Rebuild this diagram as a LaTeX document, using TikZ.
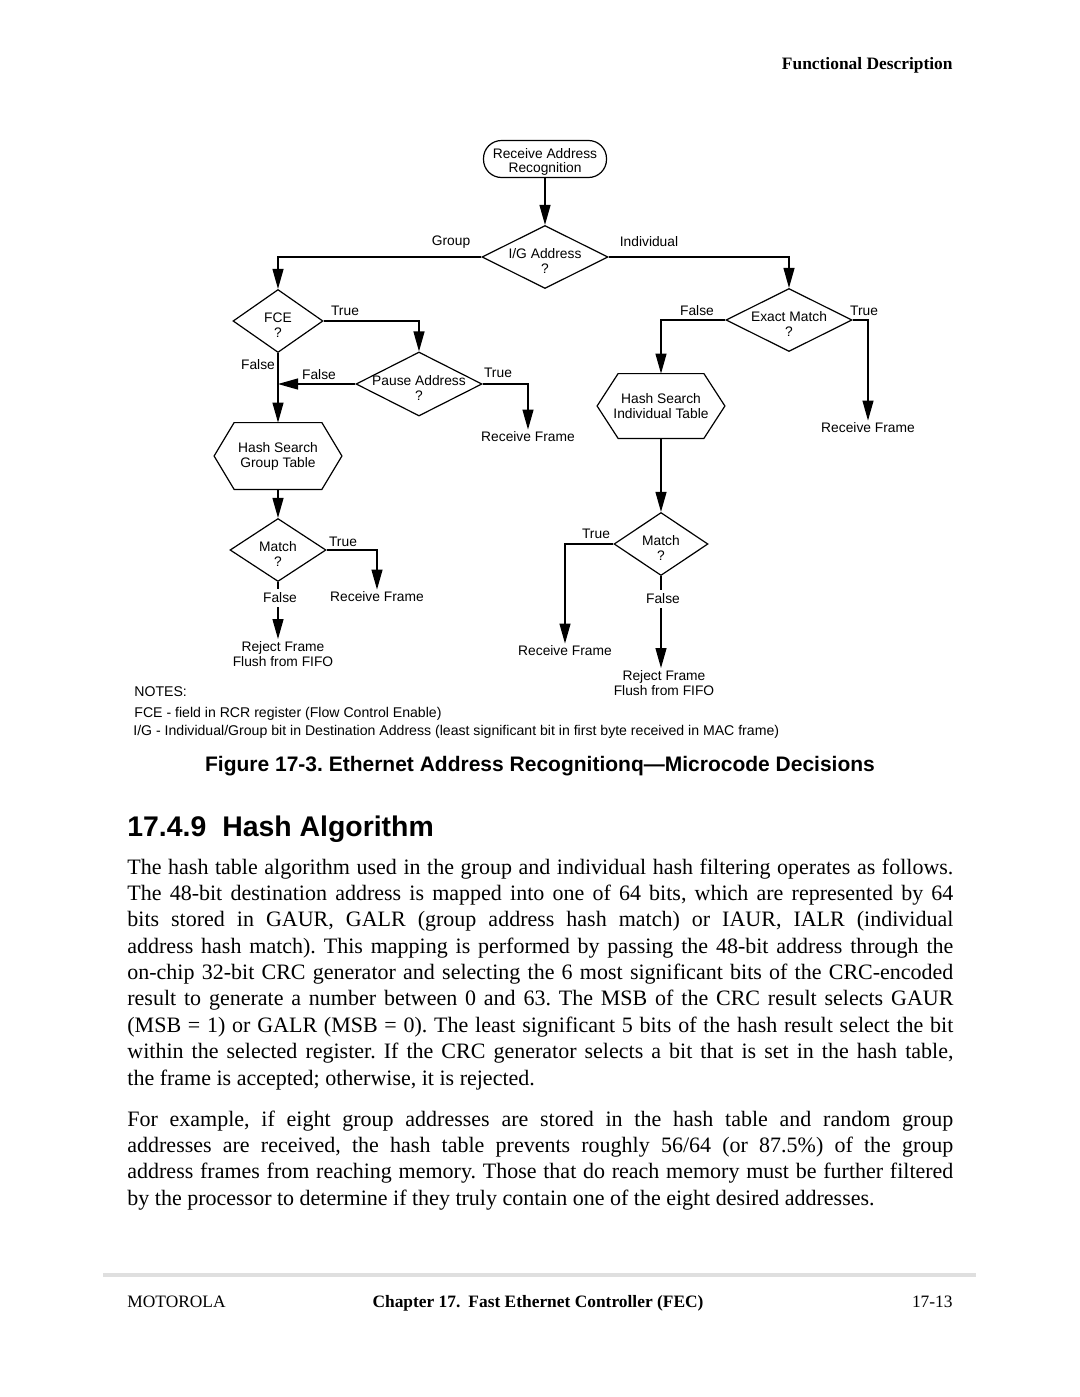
\documentclass[tikz,border=0pt]{standalone}
\usepackage{fontspec}
\setmainfont{Liberation Serif}
\setsansfont{Liberation Sans}
\usepackage{tikz}
\usetikzlibrary{shapes.geometric, arrows.meta}

\newcommand{\dfont}{\sffamily\fontsize{6.9}{7.5}\selectfont}
\newcommand{\nfont}{\sffamily\fontsize{7.05}{8}\selectfont}
\newcommand{\bodyfont}{\rmfamily\fontsize{11}{13.19}\selectfont\frenchspacing}

\tikzset{
	link/.style={line width=0.6pt},
	flow/.style={line width=0.6pt, -{Triangle[length=10pt, width=5.5pt]}},
	decision/.style={diamond, draw, line width=0.6pt, inner sep=0pt, minimum width=#1, minimum height=31.5pt},
	decision/.default=63pt,
	qtext/.style={font=\dfont, align=center, inner sep=0pt, yshift=-2pt},
	terminal/.style={rectangle, draw, line width=0.6pt, rounded corners=9pt, minimum width=61.5pt, minimum height=18.5pt, inner sep=0pt},
	hexbox/.style={rectangle, minimum width=63.5pt, minimum height=#1, inner sep=0pt, align=center, font=\dfont},
	outcome/.style={font=\dfont, align=center, inner sep=1pt},
	branch/.style={font=\dfont, inner sep=0.5pt},
	note/.style={font=\nfont, anchor=west, inner sep=0pt}
}

\begin{document}
\begin{tikzpicture}[x=0.5pt, y=-0.5pt]
	\useasboundingbox (0,0) rectangle (1080,1397);
	\fill[white] (0,0) rectangle (1080,1397);

	\node[anchor=base east, inner sep=0pt, font=\rmfamily\bfseries\fontsize{8.7}{10}\selectfont] (header) at (953,69) {Functional Description};

	\node[terminal, label={[qtext, font=\sffamily\fontsize{6.9}{7}\selectfont, yshift=0.5pt]center:{Receive Address\\Recognition}}] (start) at (545,159) {};
	\node[decision, label={[qtext]center:{I/G Address\\?}}] (ig) at (545,257) {};
	\node[decision=45pt, label={[qtext]center:{FCE\\?}}] (fce) at (278,321) {};
	\node[decision, label={[qtext]center:{Exact Match\\?}}] (exact) at (789,320) {};
	\node[decision=63pt, minimum height=32pt, label={[qtext]center:{Pause Address\\?}}] (pause) at (419,384) {};
	\node[hexbox=33pt] (hsg) at (278,456) {Hash Search\\Group Table};
	\node[hexbox=32pt] (hsi) at (661,406) {Hash Search\\Individual Table};
	\node[decision=48pt, label={[qtext]center:{Match\\?}}] (matchg) at (278,550) {};
	\node[decision=47pt, label={[qtext]center:{Match\\?}}] (matchi) at (661,544) {};

	\draw[link] ([xshift=10pt]hsg.north west) -- ([xshift=-10pt]hsg.north east) -- (hsg.east)
		-- ([xshift=-10pt]hsg.south east) -- ([xshift=10pt]hsg.south west) -- (hsg.west) -- cycle;
	\draw[link] ([xshift=10.5pt]hsi.north west) -- ([xshift=-10.5pt]hsi.north east) -- (hsi.east)
		-- ([xshift=-10.5pt]hsi.south east) -- ([xshift=10.5pt]hsi.south west) -- (hsi.west) -- cycle;

	\node[outcome] (rfpause) at (528,437) {Receive Frame};
	\node[outcome] (rfexact) at (868,428) {Receive Frame};
	\node[outcome] (rfmatchg) at (377,597) {Receive Frame};
	\node[outcome] (rfmatchi) at (565,651) {Receive Frame};
	\node[outcome] (rejg) at (283,654) {Reject Frame\\Flush from FIFO};
	\node[outcome] (reji) at (664,683) {Reject Frame\\Flush from FIFO};

	\node[branch] (bgroup) at (451,242) {Group};
	\node[branch] (bindiv) at (649,242) {Individual};
	\node[branch] (bfcetrue) at (345,311) {True};
	\node[branch] (bfcefalse) at (258,365) {False};
	\node[branch] (bpausefalse) at (319,375) {False};
	\node[branch] (bpausetrue) at (498,373) {True};
	\node[branch] (bexactfalse) at (697,311) {False};
	\node[branch] (bexacttrue) at (864,311) {True};
	\node[branch] (bmgtrue) at (343,542) {True};
	\node[branch, inner sep=2pt] (bmgfalse) at (280,598) {False};
	\node[branch] (bmitrue) at (596,534) {True};
	\node[branch, inner sep=2pt] (bmifalse) at (663,599) {False};

	\coordinate (join) at (278,384);

	\draw[flow] (start) to (ig);
	\draw[flow] (ig.west) -| (fce.north);
	\draw[flow] (ig.east) -| (exact.north);
	\draw[flow] (fce.east) -| (pause.north);
	\draw[flow] (fce.south) to (hsg.north);
	\draw[flow] (pause.west) to (join);
	\draw[flow] (pause.east) -| (rfpause.north);
	\draw[flow] (exact.west) -| (hsi.north);
	\draw[flow] (exact.east) -| (rfexact.north);
	\draw[flow] (hsg.south) to (matchg.north);
	\draw[flow] (hsi.south) to (matchi.north);
	\draw[flow] (matchg.east) -| (rfmatchg.north);
	\draw[link] (matchg.south) to (matchg.south |- bmgfalse.north);
	\draw[flow] (matchg.south |- bmgfalse.south) to (matchg.south |- rejg.north);
	\draw[flow] (matchi.west) -| (rfmatchi.north);
	\draw[link] (matchi.south) to (matchi.south |- bmifalse.north);
	\draw[flow] (matchi.south |- bmifalse.south) to (matchi.south |- reji.north);

	\node[note] (notes) at (134,692) {NOTES:};
	\node[note] (notefce) at (134,714) {FCE - field in RCR register (Flow Control Enable)};
	\node[note] (noteig) at (133,732) {I/G - Individual/Group bit in Destination Address (least significant bit in first byte received in MAC frame)};

	\node[font=\sffamily\bfseries\fontsize{10.5}{12}\selectfont\frenchspacing] (caption) at (540,766) {Figure 17-3. Ethernet Address Recognitionq---Microcode Decisions};

	\node[anchor=base west, inner sep=0pt, font=\sffamily\bfseries\fontsize{14.2}{17}\selectfont] (heading) at (127,836) {17.4.9\hspace{8pt}Hash Algorithm};

	\node[anchor=base west, inner sep=0pt] (para1) at (127,874) {\parbox[t]{413pt}{\bodyfont\tolerance=10000
		The hash table algorithm used in the group and individual hash filtering operates as follows.\linebreak
		The 48-bit destination address is mapped into one of 64 bits, which are represented by 64\linebreak
		bits stored in GAUR, GALR (group address hash match) or IAUR, IALR (individual\linebreak
		address hash match). This mapping is performed by passing the 48-bit address through the\linebreak
		on-chip 32-bit CRC generator and selecting the 6 most significant bits of the CRC-encoded\linebreak
		result to generate a number between 0 and 63. The MSB of the CRC result selects GAUR\linebreak
		(MSB = 1) or GALR (MSB = 0). The least significant 5 bits of the hash result select the bit\linebreak
		within the selected register. If the CRC generator selects a bit that is set in the hash table,\linebreak
		the frame is accepted; otherwise, it is rejected.}};

	\node[anchor=base west, inner sep=0pt] (para2) at (127,1126) {\parbox[t]{413pt}{\bodyfont\tolerance=10000
		For example, if eight group addresses are stored in the hash table and random group\linebreak
		addresses are received, the hash table prevents roughly 56/64 (or 87.5\%) of the group\linebreak
		address frames from reaching memory. Those that do reach memory must be further filtered\linebreak
		by the processor to determine if they truly contain one of the eight desired addresses.}};

	\fill[gray!25] (103,1273) rectangle (976,1277);
	\node[anchor=base west, inner sep=0pt, font=\rmfamily\fontsize{8.7}{10}\selectfont] (footleft) at (127,1307) {MOTOROLA};
	\node[anchor=base, inner sep=0pt, font=\rmfamily\bfseries\fontsize{8.7}{10}\selectfont] (footmid) at (538,1307) {Chapter 17.\hspace{4pt}Fast Ethernet Controller (FEC)};
	\node[anchor=base east, inner sep=0pt, font=\rmfamily\fontsize{8.7}{10}\selectfont] (footright) at (953,1307) {17-13};
\end{tikzpicture}
\end{document}
